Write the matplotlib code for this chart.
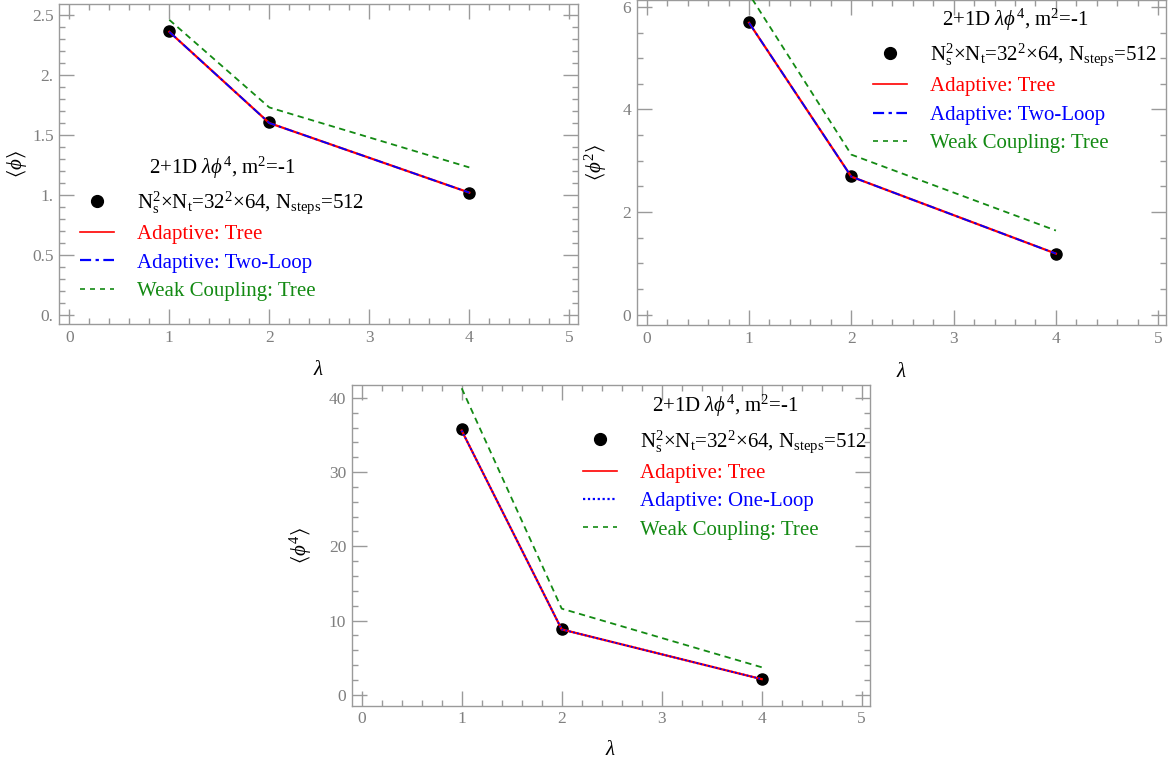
import matplotlib
matplotlib.use("Agg")
import matplotlib.pyplot as plt
from matplotlib.lines import Line2D
from matplotlib.ticker import FixedLocator, MultipleLocator

plt.rcParams['font.family'] = ['Liberation Serif', 'DejaVu Serif']
plt.rcParams['mathtext.fontset'] = 'custom'
plt.rcParams['mathtext.rm'] = 'Liberation Serif'
plt.rcParams['mathtext.it'] = 'Liberation Serif:italic'
plt.rcParams['mathtext.fallback'] = 'stix'

# ---------------- data ----------------
lam = [1, 2, 4]

phi1_mc = [2.37, 1.61, 1.02]
phi1_tree = [2.36, 1.60, 1.02]
phi1_loop = [2.36, 1.60, 1.02]
phi1_weak = [2.46, 1.73, 1.23]

phi2_mc = [5.70, 2.70, 1.19]
phi2_tree = [5.69, 2.69, 1.19]
phi2_loop = [5.69, 2.69, 1.19]
phi2_weak = [6.25, 3.12, 1.64]

phi4_mc = [35.8, 8.9, 2.1]
phi4_tree = [35.6, 8.8, 2.1]
phi4_loop = [35.6, 8.8, 2.1]
phi4_weak = [41.3, 11.6, 3.7]

xticks = [0, 1, 2, 3, 4, 5]
xticklabels = ['0', '1', '2', '3', '4', '5']
y1ticks = [0, 0.5, 1, 1.5, 2, 2.5]
y1ticklabels = ['0.', '0.5', '1.', '1.5', '2.', '2.5']
y2ticks = [0, 2, 4, 6]
y2ticklabels = ['0', '2', '4', '6']
y4ticks = [0, 10, 20, 30, 40]
y4ticklabels = ['0', '10', '20', '30', '40']

legend_title = r'2+1D $\lambda\phi^4$, m$^2$=-1'
label_mc = r'N$_\mathrm{s}^2$×N$_\mathrm{t}$=32$^2$×64, N$_\mathrm{steps}$=512'
label_tree = 'Adaptive: Tree'
label_two = 'Adaptive: Two-Loop'
label_one = 'Adaptive: One-Loop'
label_weak = 'Weak Coupling: Tree'

RED = '#ff0000'
BLUE = '#0000ff'
GREEN = '#138a13'
FRAME = '#9a9a9a'
TICKTXT = '#7f7f7f'
LFS = 15

W, H = 1172, 764
fig = plt.figure(figsize=(W / 100, H / 100), dpi=100)


def make_ax(l, r, t, b):
    return fig.add_axes([l / W, 1 - b / H, (r - l) / W, (b - t) / H])


def style(ax, xlim, ylim, yt, ytl, yminor):
    ax.set_xlim(*xlim)
    ax.set_ylim(*ylim)
    ax.xaxis.set_major_locator(FixedLocator(xticks))
    ax.set_xticklabels(xticklabels)
    ax.xaxis.set_minor_locator(MultipleLocator(0.2))
    ax.yaxis.set_major_locator(FixedLocator(yt))
    ax.set_yticklabels(ytl)
    ax.yaxis.set_minor_locator(MultipleLocator(yminor))
    for s in ax.spines.values():
        s.set_color(FRAME)
        s.set_linewidth(1.0)
    ax.tick_params(which='both', direction='in', top=True, right=True,
                   color=FRAME, width=1.0, labelcolor=TICKTXT, labelsize=12.5)
    ax.tick_params(which='major', length=10.5, pad=4)
    ax.tick_params(which='minor', length=4)


def plot_set(ax, mc, tree, loop, weak, loopstyle):
    ax.plot(lam, mc, 'o', color='black', ms=8, zorder=2, clip_on=False)
    ax.plot(lam, tree, '-', color=RED, lw=1.6, zorder=3)
    ax.plot(lam, loop, linestyle=loopstyle, color=BLUE, lw=1.3, zorder=4)
    ax.plot(lam, weak, linestyle=(0, (3.5, 2.5)), color=GREEN, lw=1.3, zorder=3)


def legend(ax, loop_label, loopstyle, anchor):
    handles = [
        Line2D([], [], marker='o', ls='none', color='black', ms=8.5),
        Line2D([], [], color=RED, lw=1.2),
        Line2D([], [], color=BLUE, lw=1.6, linestyle=loopstyle),
        Line2D([], [], color=GREEN, lw=1.2, linestyle=(0, (3, 3))),
    ]
    labels = [label_mc, label_tree, loop_label, label_weak]
    leg = ax.legend(handles, labels, title=legend_title, loc='upper left',
                    bbox_to_anchor=anchor, frameon=False, fontsize=LFS,
                    title_fontsize=LFS, handlelength=1.65, handletextpad=1.1,
                    labelspacing=0.42, borderaxespad=0, borderpad=0,
                    labelcolor=['black', RED, BLUE, GREEN])
    leg.get_title().set_color('black')
    return leg


dashdot = (0, (5, 2, 1.5, 2))
dotted = (0, (1, 1.2))

# Panel 1
ax1 = make_ax(59.3, 578, 4, 324)
style(ax1, (-0.1, 5.087), (-0.075, 2.592), y1ticks, y1ticklabels, 0.1)
plot_set(ax1, phi1_mc, phi1_tree, phi1_loop, phi1_weak, dashdot)
legend(ax1, label_two, dashdot, (0.04, 0.53))
ax1.set_ylabel(r'$\langle\phi\rangle$', fontsize=15)
ax1.set_xlabel(r'$\lambda$', fontsize=15)
ax1.yaxis.set_label_coords(-0.058, 0.5)
ax1.xaxis.set_label_coords(0.5, -0.115)

# Panel 2
ax2 = make_ax(636.7, 1166, 0, 325.3)
style(ax2, (-0.098, 5.076), (-0.207, 6.134), y2ticks, y2ticklabels, 0.5)
plot_set(ax2, phi2_mc, phi2_tree, phi2_loop, phi2_weak, dashdot)
legend(ax2, label_two, dashdot, (0.446, 0.98))
ax2.set_ylabel(r'$\langle\phi^2\rangle$', fontsize=15)
ax2.set_xlabel(r'$\lambda$', fontsize=15)
ax2.yaxis.set_label_coords(-0.053, 0.5)
ax2.xaxis.set_label_coords(0.5, -0.115)

# Panel 3
ax3 = make_ax(351.7, 870, 385, 705.7)
style(ax3, (-0.1, 5.083), (-1.48, 41.74), y4ticks, y4ticklabels, 2)
plot_set(ax3, phi4_mc, phi4_tree, phi4_loop, phi4_weak, dotted)
legend(ax3, label_one, dotted, (0.446, 0.975))
ax3.set_ylabel(r'$\langle\phi^4\rangle$', fontsize=15)
ax3.set_xlabel(r'$\lambda$', fontsize=15)
ax3.yaxis.set_label_coords(-0.072, 0.5)
ax3.xaxis.set_label_coords(0.5, -0.11)

fig.savefig('out.png', dpi=100)
